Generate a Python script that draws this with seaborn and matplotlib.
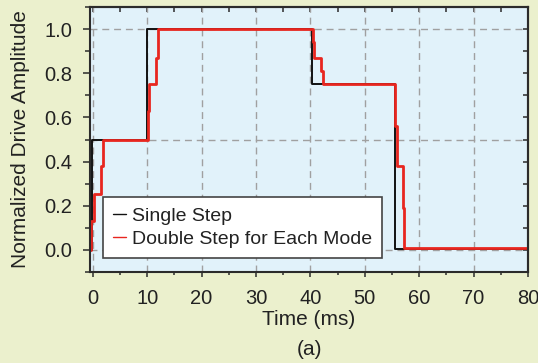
import matplotlib
matplotlib.use("Agg")
import matplotlib.pyplot as plt
from matplotlib.ticker import MultipleLocator, FormatStrFormatter
from matplotlib.lines import Line2D
import pandas as pd
import seaborn as sns

# Step responses: time (ms) at which each level begins, and the level itself
single_t = [-0.5, -0.15, 9.9, 40.3, 55.5, 80.0]
single_v = [0.0, 0.5, 1.0, 0.75, 0.005, 0.005]

double_t = [-0.5, -0.35, 0.2, 1.5, 1.9, 10.1, 10.4, 11.7, 12.0,
            40.4, 40.7, 41.9, 42.4, 55.5, 55.9, 57.0, 57.3, 80.0]
double_v = [0.0, 0.13, 0.255, 0.38, 0.5, 0.63, 0.75, 0.87, 1.0,
            0.94, 0.87, 0.81, 0.75, 0.56, 0.38, 0.19, 0.01, 0.01]

series_names = ["Single Step", "Double Step for Each Mode"]
series_colors = ["#111111", "#e8261f"]
ref_levels = [0.0, 0.5, 1.0]

df = pd.concat([
    pd.DataFrame({"t": single_t, "amp": single_v, "series": series_names[0]}),
    pd.DataFrame({"t": double_t, "amp": double_v, "series": series_names[1]}),
], ignore_index=True)

sns.set_style("ticks")
plt.rcParams["font.family"] = ["Liberation Sans", "DejaVu Sans"]
plt.rcParams["font.size"] = 15

fig_bg = "#ebf0cd"
ax_bg = "#e1f2fa"
ink = "#2b2b2b"
txt = "#222222"
grid_kw = dict(color="#a0a0a0", linestyle=(0, (5, 3.5)), linewidth=1.0)

fig = plt.figure(figsize=(5.38, 3.63), dpi=100, facecolor=fig_bg)
ax = fig.add_axes([0.1673, 0.2507, 0.8141, 0.73], facecolor=ax_bg)

# reference grid
ax.grid(axis="x", **grid_kw)
for lv in ref_levels:
    ax.axhline(lv, zorder=0.9, **grid_kw)
ax.set_axisbelow(True)

sns.lineplot(data=df, x="t", y="amp", hue="series", hue_order=series_names,
             palette=series_colors, drawstyle="steps-post", estimator=None,
             sort=False, ax=ax, legend=False)
data_lines = [l for l in ax.get_lines() if len(l.get_xdata()) > 2]
data_lines[0].set_linewidth(1.4)
data_lines[1].set_linewidth(2.0)

ax.set_xlim(-0.5, 80)
ax.set_ylim(-0.1, 1.1)
ax.xaxis.set_major_locator(MultipleLocator(10))
ax.xaxis.set_minor_locator(MultipleLocator(5))
ax.yaxis.set_major_locator(MultipleLocator(0.2))
ax.yaxis.set_minor_locator(MultipleLocator(0.1))
ax.yaxis.set_major_formatter(FormatStrFormatter("%.1f"))

for s in ax.spines.values():
    s.set_visible(True)
    s.set_linewidth(1.5)
    s.set_color(ink)

ax.tick_params(axis="x", which="major", direction="out", length=3.5, width=1.1,
               color=ink, pad=9, labelsize=14.5, labelcolor=txt)
ax.tick_params(axis="x", which="minor", direction="out", length=2.5, width=1.1, color=ink)
ax.tick_params(axis="y", which="major", direction="out", length=5, width=1.1,
               color=ink, pad=8, labelsize=14.5, labelcolor=txt)
ax.tick_params(axis="y", which="minor", direction="out", length=3.5, width=1.1, color=ink)

# inward ticks along the top and right edges
top = ax.secondary_xaxis("top")
top.xaxis.set_major_locator(MultipleLocator(10))
top.xaxis.set_minor_locator(MultipleLocator(5))
top.tick_params(which="both", direction="in", length=3.5, width=1.1, color=ink, labeltop=False)
top.spines["top"].set_linewidth(1.5)
top.spines["top"].set_color(ink)
right = ax.secondary_yaxis("right")
right.yaxis.set_major_locator(MultipleLocator(0.2))
right.yaxis.set_minor_locator(MultipleLocator(0.1))
right.tick_params(which="both", direction="in", length=3.5, width=1.1, color=ink, labelright=False)
right.spines["right"].set_linewidth(1.5)
right.spines["right"].set_color(ink)

ax.set_xlabel("Time (ms)", fontsize=15, color=txt, labelpad=1)
ax.set_ylabel("Normalized Drive Amplitude", fontsize=15, color=txt, labelpad=10)

handles = [Line2D([], [], color=c, linewidth=1.0) for c in series_colors]
leg = ax.legend(handles, series_names, loc="lower left", bbox_to_anchor=(0.03, 0.053),
                borderaxespad=0, fontsize=14, frameon=True, fancybox=False,
                handlelength=0.7, handletextpad=0.3, labelspacing=0.3,
                borderpad=0.5, edgecolor="#444444", framealpha=1.0, facecolor="white")
leg.get_frame().set_linewidth(1.2)
for t in leg.get_texts():
    t.set_color(txt)

fig.text(0.576, 0.036, "(a)", ha="center", va="center", fontsize=15, color=txt)

fig.savefig("out.png", dpi=100, facecolor=fig_bg)
